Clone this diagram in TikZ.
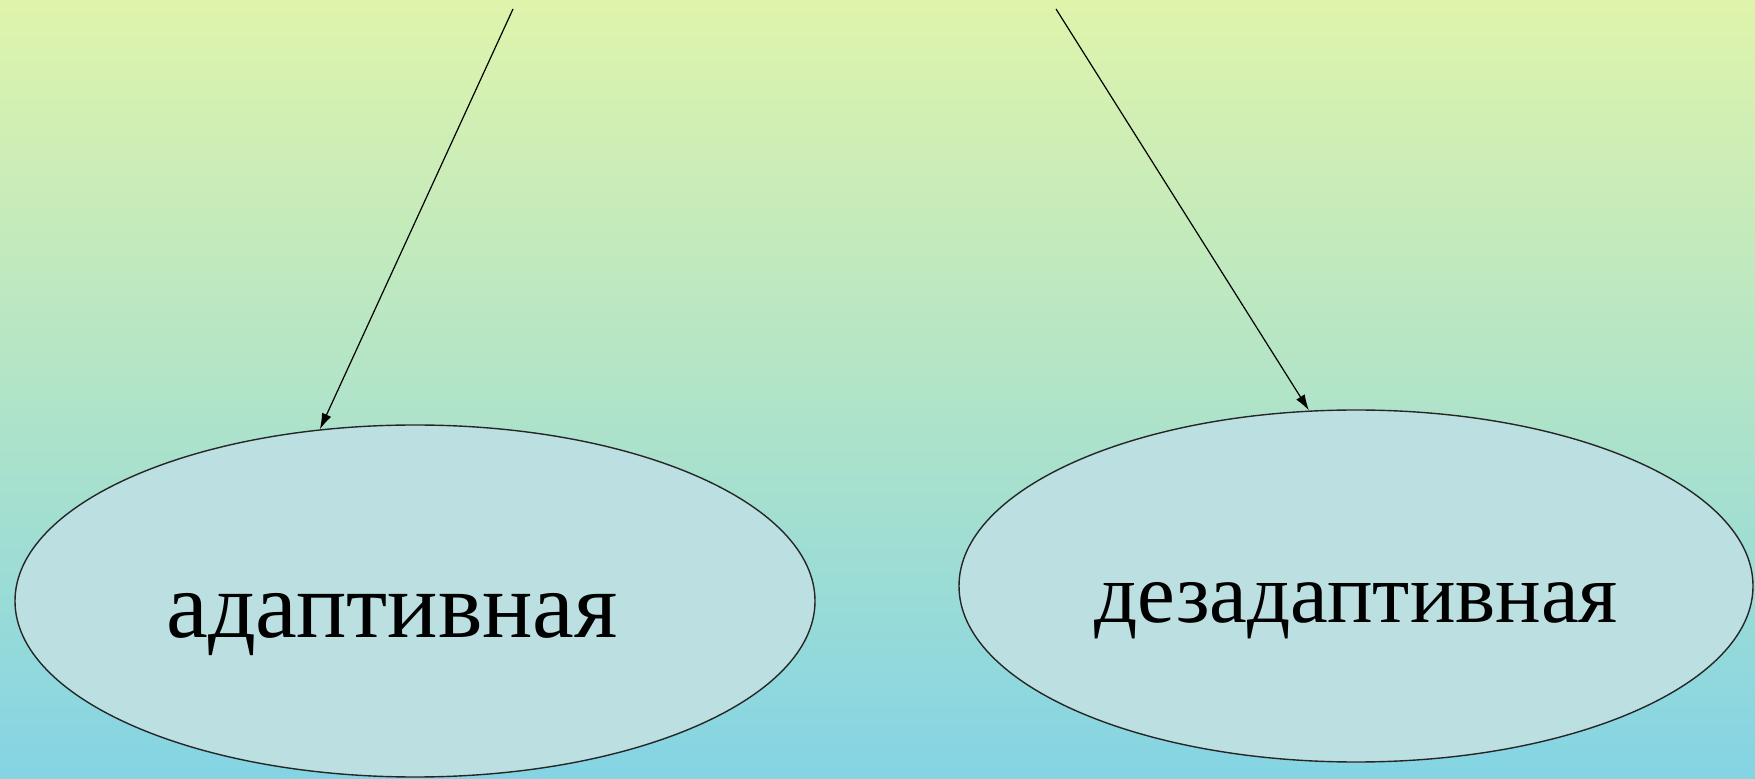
\documentclass[tikz,border=0pt]{standalone}
\usepackage{fontspec}
\setmainfont{Liberation Serif}
\usetikzlibrary{shapes.geometric,arrows.meta}

\definecolor{bgtop}{HTML}{DFF4AB}
\definecolor{bgmid}{HTML}{B2E5C6}
\definecolor{bgbot}{HTML}{84D4E4}
\definecolor{ovalfill}{HTML}{BCE0E2}

\begin{document}
\begin{tikzpicture}[x=0.5pt,y=-0.5pt,>={Latex[length=8pt,width=5pt]},
	oval/.style={ellipse,draw=black!85,line width=0.7pt,fill=ovalfill,inner sep=0pt},
	word/.style={font=\fontsize{47}{56}\selectfont,inner sep=0pt,anchor=base}]
		\useasboundingbox (0,0) rectangle (1755,779);
		\shade[top color=bgtop,middle color=bgmid,bottom color=bgbot] (0,0) rectangle (1755,779);
		\node[oval,minimum width=400pt,minimum height=176pt] (adapt) at (415,601) {};
		\node[oval,minimum width=397pt,minimum height=176pt] (desadapt) at (1356,586) {};
		\node[word] (adaptword) at (392,638) {адаптивная};
		\node[word,font=\fontsize{42.5}{50}\selectfont] (desadaptword) at (1356,623) {дезадаптивная};
		\coordinate (srcL) at (513,9);
		\coordinate (srcR) at (1056,9);
		\draw [->,line width=0.6pt] (srcL) -- (adapt.119);
		\draw [->,line width=0.6pt] (srcR) -- (desadapt.105);
		\end{tikzpicture}
\end{document}
